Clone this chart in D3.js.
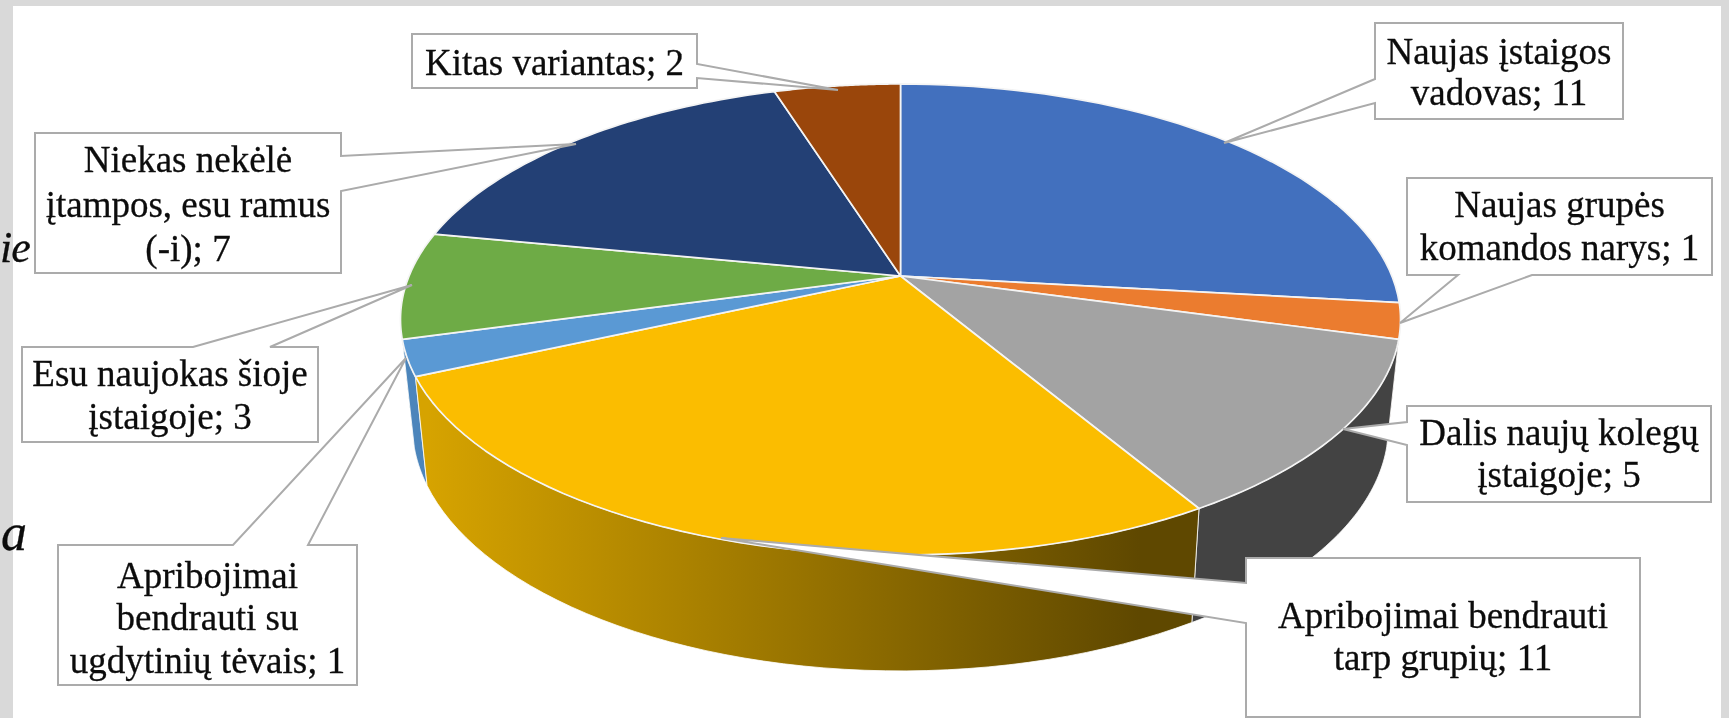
<!DOCTYPE html>
<html lang="lt">
<head>
<meta charset="utf-8">
<style>
html,body{margin:0;padding:0;background:#fff;overflow:hidden}
svg{display:block;filter:blur(0.6px)}
text{font-family:"Liberation Serif",serif;fill:#0c0c0c;stroke:#0c0c0c;stroke-width:0.3px}
</style>
<script src="https://cdn.jsdelivr.net/npm/d3@7/dist/d3.min.js"></script>
</head>
<body>
<svg id="chart" width="1729" height="718"></svg>
<script>
// ---- data ----
const categories = [
  "Naujas įstaigos\nvadovas",
  "Naujas grupės\nkomandos narys",
  "Dalis naujų kolegų\nįstaigoje",
  "Apribojimai bendrauti\ntarp grupių",
  "Apribojimai\nbendrauti su\nugdytinių tėvais",
  "Esu naujokas šioje\nįstaigoje",
  "Niekas nekėlė\nįtampos, esu ramus\n(-i)",
  "Kitas variantas"
];
const values = [11, 1, 5, 11, 1, 3, 7, 2];
const topColors  = ["#4270BE","#EB7C2F","#A3A3A3","#FBBD00","#5A99D4","#6EAB46","#234075","#9A460B"];
const sideColors = ["#2c4a80","#8d4a1c","#434343","url(#yellowSide)","#4c85bb","#43672a","#162644","#5c2a07"];

// ---- callout layout: box [x0,y0,x1,y1], wedge side, wedge base a/b, wedge tip, text baselines ----
const callouts = [
  {box:[1375,23,1623,119],  side:"left",  a:79,  b:103, tip:[1224,143], base:[64,105]},
  {box:[1407,178,1712,275], side:"bottom",a:1458,b:1532,tip:[1400,323], base:[217,260]},
  {box:[1407,406,1711,502], side:"left",  a:422, b:445, tip:[1343,429], base:[445,487]},
  {box:[1246,558,1640,717], side:"left",  a:583, b:623, tip:[721,538],  base:[628,670]},
  {box:[58,545,357,685],    side:"top",   a:233, b:308, tip:[406,358],  base:[588,630,673]},
  {box:[22,347,318,442],    side:"top",   a:193, b:270, tip:[412,285],  base:[386,429]},
  {box:[35,133,341,273],    side:"right", a:156, b:191, tip:[576,144],  base:[172,217,261]},
  {box:[412,34,697,88],     side:"right", a:64,  b:78,  tip:[838,90],   base:[75]}
];
// page-text fragments beside the chart
const fragments = [
  {text:"ie", x:0, y:262, size:44, spacing:-1},
  {text:"a",  x:1, y:550, size:52, spacing:0}
];

// ---- perspective disc ----
const cx = 900.5, cy = 276, k = 0.1847, Sy = 227.5, Rx = 491.4;
const shrinkX = 0.976, growY = 1.039, depth = 105;
function topPt(t){
  const a = Math.sin(t), n = -Math.cos(t), w = 1 - k*n;
  return [cx + Rx*a/w, cy + Sy*n/w];
}
function botPt(t){
  const p = topPt(t);
  return [cx + (p[0]-cx)*shrinkX, cy + depth + (p[1]-cy)*growY];
}

const svg = d3.select("#chart");
const W = 1729, H = 718;

// page frame
svg.append("rect").attr("width",W).attr("height",H).attr("fill","#d9d9d9");
svg.append("rect").attr("x",13).attr("y",6).attr("width",1708).attr("height",H-6).attr("fill","#fff");

const defs = svg.append("defs");
const grad = defs.append("linearGradient").attr("id","yellowSide")
  .attr("gradientUnits","userSpaceOnUse").attr("x1",428).attr("x2",1140).attr("y1",0).attr("y2",0);
grad.append("stop").attr("offset",0).attr("stop-color","#d6a300");
grad.append("stop").attr("offset",1).attr("stop-color","#5f4800");

fragments.forEach(f=>{
  svg.append("text").text(f.text).attr("x",f.x).attr("y",f.y)
    .style("font-style","italic").style("font-size",f.size+"px").style("letter-spacing",f.spacing+"px");
});

const arcs = d3.pie().value(d=>d).sort(null).startAngle(0).endAngle(2*Math.PI)(values);
const line = d3.line();
const steps = (a,b)=>d3.range(0,49).map(i=>a+(b-a)*i/48);

// side walls: back slices first, near yellow slice last
const wallOrder = [6,7,0,1,5,4,2,3];
svg.append("g").selectAll("path").data(wallOrder).join("path")
  .attr("d",i=>{
    const s = steps(arcs[i].startAngle,arcs[i].endAngle);
    return line(s.map(topPt).concat(s.slice().reverse().map(botPt)))+"Z";
  })
  .attr("fill",i=>sideColors[i]).attr("stroke","#fff").attr("stroke-width",0.8);

// top face
svg.append("g").selectAll("path").data(arcs).join("path")
  .attr("d",d=>{
    const s = steps(d.startAngle,d.endAngle);
    return line([[cx,cy]].concat(s.map(topPt)))+"Z";
  })
  .attr("fill",d=>topColors[d.index]).attr("stroke","#f4f4f4").attr("stroke-width",1.7).attr("stroke-linejoin","round");

// callouts
function calloutPath(c){
  const [x0,y0,x1,y1] = c.box, t = c.tip;
  let p;
  if(c.side==="left")   p=[[x0,y0],[x1,y0],[x1,y1],[x0,y1],[x0,c.b],t,[x0,c.a]];
  if(c.side==="right")  p=[[x0,y0],[x1,y0],[x1,c.a],t,[x1,c.b],[x1,y1],[x0,y1]];
  if(c.side==="top")    p=[[x0,y0],[c.a,y0],t,[c.b,y0],[x1,y0],[x1,y1],[x0,y1]];
  if(c.side==="bottom") p=[[x0,y0],[x1,y0],[x1,y1],[c.b,y1],t,[c.a,y1],[x0,y1]];
  return line(p)+"Z";
}
const labels = svg.append("g").selectAll("g").data(callouts).join("g");
labels.append("path").attr("d",calloutPath).attr("fill","#fff")
  .attr("stroke","#ababab").attr("stroke-width",2).attr("stroke-linejoin","miter");
labels.each(function(c,i){
  const parts = (categories[i]+"; "+values[i]).split("\n");
  const mid = (c.box[0]+c.box[2])/2;
  d3.select(this).selectAll("text").data(parts).join("text")
    .text(d=>d).attr("x",mid).attr("y",(d,j)=>c.base[j])
    .attr("text-anchor","middle").style("font-size","37px");
});
</script>
</body>
</html>
